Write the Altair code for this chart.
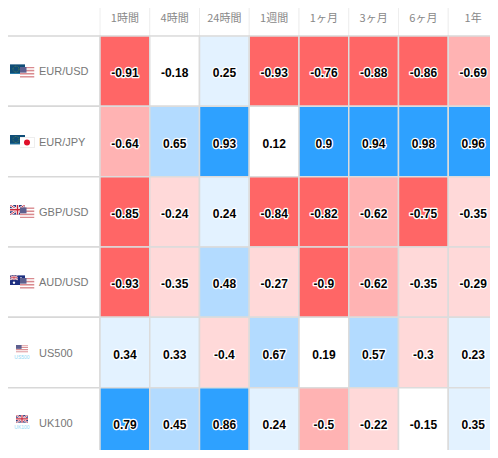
import base64
import altair as alt

columns = ["1時間", "4時間", "24時間", "1週間", "1ヶ月", "3ヶ月", "6ヶ月", "1年"]
pairs = ["EUR/USD", "EUR/JPY", "GBP/USD", "AUD/USD", "US500", "UK100"]
eur_usd = [-0.91, -0.18, 0.25, -0.93, -0.76, -0.88, -0.86, -0.69]
eur_jpy = [-0.64, 0.65, 0.93, 0.12, 0.9, 0.94, 0.98, 0.96]
gbp_usd = [-0.85, -0.24, 0.24, -0.84, -0.82, -0.62, -0.75, -0.35]
aud_usd = [-0.93, -0.35, 0.48, -0.27, -0.9, -0.62, -0.35, -0.29]
us500 = [0.34, 0.33, -0.4, 0.67, 0.19, 0.57, -0.3, 0.23]
uk100 = [0.79, 0.45, 0.86, 0.24, -0.5, -0.22, -0.15, 0.35]
series = [eur_usd, eur_jpy, gbp_usd, aud_usd, us500, uk100]

thresholds = [-0.7, -0.4, -0.2, 0.2, 0.4, 0.7]
palette = ["#ff6666", "#ffb3b3", "#ffd9d9", "#ffffff", "#e3f2ff", "#b3dbff", "#2ea1ff"]

FONT = "Liberation Sans"
CJK = "Noto Sans CJK JP"


def uri(body, w, h):
    svg = f'<svg xmlns="http://www.w3.org/2000/svg" viewBox="0 0 {w} {h}" preserveAspectRatio="none">{body}</svg>'
    return "data:image/svg+xml;base64," + base64.b64encode(svg.encode()).decode()


def stripes():
    out = '<rect width="15" height="11" fill="#fff"/>'
    for i in range(0, 7, 2):
        out += f'<rect y="{i * 11 / 7:.2f}" width="15" height="{11 / 7:.2f}" fill="#d98a8f"/>'
    return out + '<rect width="7" height="6" fill="#5d5f8e"/>'


def union(w, h):
    return (f'<rect width="{w}" height="{h}" fill="#2d3a7c"/>'
            f'<path d="M0 0L{w} {h}M{w} 0L0 {h}" stroke="#fff" stroke-width="2.4"/>'
            f'<path d="M0 0L{w} {h}M{w} 0L0 {h}" stroke="#c8283c" stroke-width="0.9"/>'
            f'<path d="M{w/2} 0V{h}M0 {h/2}H{w}" stroke="#fff" stroke-width="3"/>'
            f'<path d="M{w/2} 0V{h}M0 {h/2}H{w}" stroke="#c8283c" stroke-width="1.5"/>')


FLAG_EU = uri('<rect width="15" height="10" fill="#0f4d78"/><circle cx="6" cy="5" r="3" fill="none" stroke="#7a9a40" stroke-width="0.7" stroke-dasharray="0.8 0.8"/><rect y="9" width="15" height="1" fill="#2f87b5"/>', 15, 10)
FLAG_US = uri(stripes(), 15, 11)
FLAG_JP = uri('<rect width="15" height="11" fill="#fff" stroke="#ddd"/><circle cx="7.5" cy="5.5" r="3" fill="#e0102a"/>', 15, 11)
FLAG_GB = uri(union(15, 10), 15, 10)
FLAG_AU = uri('<rect width="15" height="10" fill="#1d2f80"/>' + '<svg width="8" height="5" viewBox="0 0 15 10">' + union(15, 10) + '</svg><circle cx="11" cy="3" r="1" fill="#fff"/><circle cx="11" cy="7" r="1" fill="#fff"/><circle cx="4" cy="7.5" r="1.2" fill="#fff"/>', 15, 10)
FLAG_US_S = uri(stripes(), 15, 11)
FLAG_GB_S = uri(union(15, 11), 15, 11)

front_flags = [FLAG_EU, FLAG_EU, FLAG_GB, FLAG_AU]
back_flags = [FLAG_US, FLAG_JP, FLAG_US, FLAG_US]
index_flags = [FLAG_US_S, FLAG_GB_S]
index_names = ["US500", "UK100"]

cells = [{"pair": p, "col": c, "v": v} for p, row in zip(pairs, series) for c, v in zip(columns, row)]
labels = [{"pair": p} for p in pairs]
heads = [{"col": c} for c in columns]
fronts = [{"pair": p, "url": u} for p, u in zip(pairs, front_flags)]
backs = [{"pair": p, "url": u} for p, u in zip(pairs, back_flags)]
idx = [{"pair": p, "url": u, "tag": p} for p, u in zip(index_names, index_flags)]

X = alt.X("col:N", sort=columns, axis=None,
          scale=alt.Scale(domain=columns, range=[92, 490], paddingInner=0, paddingOuter=0))
Y = alt.Y("pair:N", sort=pairs, axis=None,
          scale=alt.Scale(domain=pairs, range=[28, 450], paddingInner=0, paddingOuter=0))

cell_src = alt.Data(values=cells)

rects = alt.Chart(cell_src).mark_rect(stroke="#dcdcdc", strokeWidth=1.5).encode(
    x=X, y=Y,
    color=alt.Color("v:Q", legend=None,
                    scale=alt.Scale(type="threshold", domain=thresholds, range=palette)),
)
halo = alt.Chart(cell_src).mark_text(font=FONT, fontSize=12, fontWeight="bold", stroke="#ffffff",
                                     strokeWidth=2.5, strokeJoin="round", fill="#ffffff", dy=2).encode(
    x=X, y=Y, text=alt.Text("v:N"))
nums = alt.Chart(cell_src).mark_text(font=FONT, fontSize=12, fontWeight="bold", fill="#000000", dy=2).encode(
    x=X, y=Y, text=alt.Text("v:N"))

label_rects = alt.Chart(alt.Data(values=labels)).mark_rect(fill="#ffffff", stroke="#d8d8d8", strokeWidth=1.5).encode(
    x=alt.value(-3), x2=alt.value(92), y=Y)
label_text = alt.Chart(alt.Data(values=labels)).mark_text(font=FONT, fontSize=11, fill="#777777", align="left", dy=1).encode(
    x=alt.value(31), y=Y, text="pair:N")

head_rects = alt.Chart(alt.Data(values=heads)).mark_rect(fill="#ffffff", stroke="#eeeeee").encode(
    x=X, y=alt.value(-3), y2=alt.value(28))
head_text = alt.Chart(alt.Data(values=heads)).mark_text(font=CJK, fontSize=11, fill="#888888").encode(
    x=X, y=alt.value(11), text="col:N")

front_img = alt.Chart(alt.Data(values=fronts)).mark_image(width=15, height=10, yOffset=-2).encode(
    x=alt.value(9.5), y=Y, url="url:N")
back_img = alt.Chart(alt.Data(values=backs)).mark_image(width=15, height=11, yOffset=1).encode(
    x=alt.value(19), y=Y, url="url:N")
idx_img = alt.Chart(alt.Data(values=idx)).mark_image(width=12, height=8, yOffset=-4).encode(
    x=alt.value(14), y=Y, url="url:N")
idx_tag = alt.Chart(alt.Data(values=idx)).mark_text(font=FONT, fontSize=5, fill="#8fd8f5", yOffset=4).encode(
    x=alt.value(14), y=Y, text="tag:N")

chart = alt.layer(head_rects, head_text, label_rects, label_text, rects, halo, nums,
                  front_img, back_img, idx_img, idx_tag).resolve_scale(
    x="shared", y="shared"
).properties(width=482, height=442, padding=0, autosize=alt.AutoSizeParams(type="none"),
             background="#ffffff").configure_view(stroke=None)

chart.save("out.html", embed_options={"renderer": "svg", "actions": False})
